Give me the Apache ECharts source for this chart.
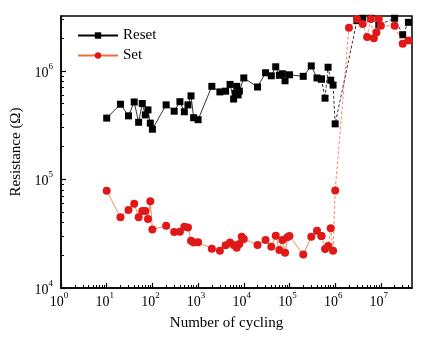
<!DOCTYPE html>
<html><head><meta charset="utf-8">
<script src="https://cdn.jsdelivr.net/npm/echarts@6/dist/echarts.min.js"></script>
<style>html,body{margin:0;padding:0;background:#fff}#c{width:427px;height:340px}</style>
</head><body><div id="c"></div>
<script>
// ---- data ----
const resetCycles = [10,20,30,40,50,60,70,80,90,100,200,300,400,500,600,700,800,1000,
  2000,3000,4000,5000,6000,6500,7000,7500,8000,10000,
  20000,30000,40000,50000,60000,70000,80000,100000,200000,300000,400000,500000,600000,700000,800000,900000,1000000,
  3000000,4000000,6000000,9000000,20000000,30000000,40000000];
const resetValues = [3.67e5,4.93e5,3.85e5,5.17e5,3.36e5,5.0e5,3.93e5,4.37e5,3.3e5,2.9e5,4.86e5,4.25e5,5.2e5,4.2e5,4.86e5,5.88e5,3.7e5,3.55e5,
  7.2e5,6.4e5,6.5e5,7.5e5,5.5e5,6.2e5,7.2e5,6.0e5,6.5e5,8.6e5,
  7.1e5,9.6e5,9.0e5,1.09e6,9.1e5,9.4e5,8.1e5,9.2e5,8.9e5,1.11e6,8.6e5,8.4e5,5.6e5,1.08e6,8.2e5,7.4e5,3.25e5,
  2.9e6,3.05e6,3.05e6,2.65e6,3.05e6,2.15e6,2.8e6];
const setCycles = [10,20,30,40,50,60,70,80,90,100,200,300,400,500,600,700,800,1000,
  2000,3000,4000,5000,6000,7000,8000,9000,10000,
  20000,30000,40000,50000,60000,70000,80000,90000,100000,200000,300000,400000,500000,600000,700000,800000,900000,1000000,
  2000000,3000000,4000000,5000000,6000000,7000000,8000000,9000000,10000000,20000000,30000000,40000000];
const setValues = [7.88e4,4.48e4,5.23e4,5.98e4,4.48e4,5.13e4,5.13e4,4.32e4,6.3e4,3.45e4,3.75e4,3.28e4,3.3e4,3.67e4,3.6e4,2.73e4,2.62e4,2.64e4,
  2.3e4,2.2e4,2.47e4,2.62e4,2.49e4,2.35e4,2.54e4,2.97e4,2.83e4,
  2.49e4,2.77e4,2.4e4,3.03e4,2.24e4,2.77e4,2.11e4,2.93e4,3.01e4,2.03e4,2.97e4,3.37e4,3.01e4,2.29e4,2.44e4,3.55e4,2.2e4,7.9e4,
  2.5e6,3.0e6,2.7e6,2.05e6,3.0e6,2.0e6,2.25e6,3.0e6,2.6e6,2.6e6,1.78e6,1.9e6];
const xMajorTicks = [1,10,100,1000,10000,100000,1000000,10000000];
const yMajorTicks = [10000,100000,1000000];
const seriesNames = ['Reset','Set'];
// ---------------------------------------

const X_MIN = 1, X_MAX = 4.8e7, Y_MIN = 1e4, Y_MAX = 3.2e6;
function minorTicks(lo, hi){
  const out = [];
  for (let d = lo; d < hi * 10; d *= 10)
    for (let k = 2; k <= 9; k++) { const v = d * k; if (v > lo && v < hi) out.push(v); }
  return out;
}
const xMinorTicks = minorTicks(X_MIN, X_MAX);
const yMinorTicks = minorTicks(Y_MIN, Y_MAX);

const SPLIT = 5e5;
function pairs(xs, ys, test){ const r=[]; xs.forEach((x,i)=>{ if(test(x)) r.push([x, ys[i]]); }); return r; }

const FONT = 'Liberation Serif';
function supLabel(v){
  const e = Math.round(Math.log10(v));
  if (Math.abs(Math.pow(10, e) - v) / v > 1e-6) return '';
  return '{b|10}{s|' + e + '}';
}
const rich = {
  b: {fontFamily: FONT, fontSize: 14, color: '#000'},
  s: {fontFamily: FONT, fontSize: 9, color: '#000', padding: [0,0,13,0]}
};

const BLACK = '#000', RED = '#e01818', ORANGE = '#e8703a';

const chart = echarts.init(document.getElementById('c'), null, {renderer: 'canvas'});
chart.setOption({
  animation: false,
  backgroundColor: '#fff',
  grid: {left: 61, right: 15, top: 16, bottom: 52, show: true, borderColor: '#000', borderWidth: 1.5, backgroundColor: 'transparent'},
  legend: {
    data: seriesNames, orient: 'vertical', left: 72, top: 23, itemWidth: 40, itemHeight: 8, itemGap: 5,
    textStyle: {fontFamily: FONT, fontSize: 15, color: '#000'}
  },
  xAxis: [{
    type: 'log', logBase: 10, min: X_MIN, max: X_MAX,
    name: 'Number of cycling', nameLocation: 'middle', nameGap: 28,
    nameTextStyle: {fontFamily: FONT, fontSize: 15, color: '#000', padding: [0, 20, 0, 0]},
    axisLine: {lineStyle: {color: '#000', width: 1.5}},
    axisTick: {inside: true, length: 5, customValues: xMajorTicks, lineStyle: {color: '#000', width: 1.2}},
    axisLabel: {customValues: xMajorTicks, formatter: supLabel, rich: rich, margin: 3, padding: [0, 4, 0, 0]},
    splitLine: {show: false}, minorTick: {show: false}
  }, {
    type: 'log', logBase: 10, min: X_MIN, max: X_MAX, position: 'bottom',
    axisLine: {show: false}, axisLabel: {show: false}, splitLine: {show: false},
    axisTick: {inside: true, length: 3, customValues: xMinorTicks, lineStyle: {color: '#000', width: 1}}
  }],
  yAxis: [{
    type: 'log', logBase: 10, min: Y_MIN, max: Y_MAX,
    name: 'Resistance (\u03A9)', nameLocation: 'middle', nameGap: 35,
    nameTextStyle: {fontFamily: FONT, fontSize: 15, color: '#000'},
    axisLine: {lineStyle: {color: '#000', width: 1.5}},
    axisTick: {inside: true, length: 5, customValues: yMajorTicks, lineStyle: {color: '#000', width: 1.2}},
    axisLabel: {customValues: yMajorTicks, formatter: supLabel, rich: rich, margin: 8, padding: [4, 0, 0, 0]},
    splitLine: {show: false}, minorTick: {show: false}
  }, {
    type: 'log', logBase: 10, min: Y_MIN, max: Y_MAX, position: 'left',
    axisLine: {show: false}, axisLabel: {show: false}, splitLine: {show: false},
    axisTick: {inside: true, length: 3, customValues: yMinorTicks, lineStyle: {color: '#000', width: 1}}
  }],
  series: [
    {name: 'Reset', type: 'line', data: pairs(resetCycles, resetValues, x => x <= SPLIT),
     symbol: 'rect', symbolSize: 7, itemStyle: {color: BLACK}, lineStyle: {color: BLACK, width: 0.8}, z: 2},
    {name: 'Set', type: 'line', data: pairs(setCycles, setValues, x => x <= SPLIT),
     symbol: 'circle', symbolSize: 8, itemStyle: {color: RED}, lineStyle: {color: ORANGE, width: 0.8}, z: 3},
    {name: 'Reset', type: 'line', data: pairs(resetCycles, resetValues, x => x >= SPLIT),
     symbol: 'rect', symbolSize: 7, itemStyle: {color: BLACK}, lineStyle: {color: BLACK, width: 0.8, type: [3, 2]}, z: 2},
    {name: 'Set', type: 'line', data: pairs(setCycles, setValues, x => x >= SPLIT),
     symbol: 'circle', symbolSize: 8, itemStyle: {color: RED}, lineStyle: {color: ORANGE, width: 0.8, type: [3, 2]}, z: 3}
  ]
});
</script>
</body></html>
